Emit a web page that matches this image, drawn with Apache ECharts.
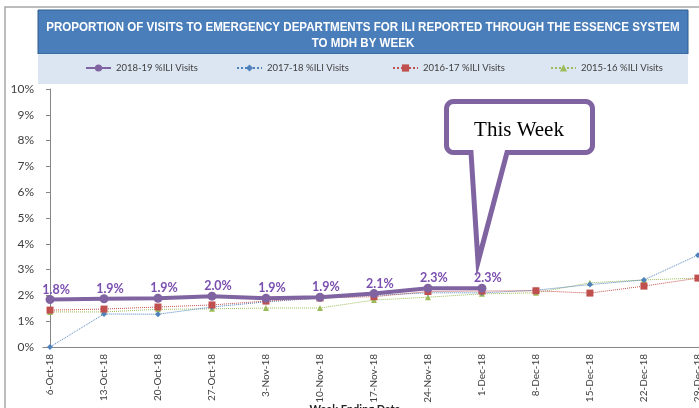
<!DOCTYPE html>
<html>
<head>
<meta charset="utf-8">
<script src="https://cdn.jsdelivr.net/npm/echarts@6/dist/echarts.min.js"></script>
<style>
  html, body { margin: 0; padding: 0; background: #fff; }
  #chart { width: 699px; height: 408px; }
</style>
</head>
<body>
<div id="chart"></div>
<script>
// week ending dates
const weeks = ['6-Oct-18', '13-Oct-18', '20-Oct-18', '27-Oct-18', '3-Nov-18', '10-Nov-18', '17-Nov-18',
  '24-Nov-18', '1-Dec-18', '8-Dec-18', '15-Dec-18', '22-Dec-18', '29-Dec-18']

// % ILI visits per season
const season1819 = [1.84, 1.87, 1.89, 1.97, 1.89, 1.93, 2.07, 2.28, 2.28]
const season1718 = [0.0, 1.28, 1.27, 1.55, 1.75, 1.9, 2.0, 2.1, 2.1, 2.2, 2.42, 2.6, 3.56]
const season1617 = [1.43, 1.47, 1.55, 1.63, 1.78, 1.9, 1.95, 2.15, 2.17, 2.18, 2.09, 2.36, 2.67]
const season1516 = [1.36, 1.36, 1.46, 1.48, 1.51, 1.51, 1.82, 1.93, 2.06, 2.1, 2.49, 2.6, 2.67]

const seasonNames = ['2018-19 %ILI Visits', '2017-18 %ILI Visits', '2016-17 %ILI Visits', '2015-16 %ILI Visits']

const toPairs = arr => arr.map((v, i) => [i, v])

// outline of the "This Week" speech bubble: rounded box with a tail
const bubblePoints = () => {
  const x0 = 446.5, x1 = 592.5, y0 = 101.5, y1 = 152.5, r = 7
  const pts = []
  const arc = (cx, cy, a0, a1) => {
    for (let k = 0; k <= 6; k++) {
      const a = a0 + (a1 - a0) * k / 6
      pts.push([cx + r * Math.cos(a), cy + r * Math.sin(a)])
    }
  }
  arc(x0 + r, y0 + r, Math.PI, Math.PI * 1.5)
  arc(x1 - r, y0 + r, Math.PI * 1.5, Math.PI * 2)
  arc(x1 - r, y1 - r, 0, Math.PI * 0.5)
  pts.push([507, y1], [478, 262], [471, y1])
  arc(x0 + r, y1 - r, Math.PI * 0.5, Math.PI)
  return pts
}

const chart = echarts.init(document.getElementById('chart'))

const labelFont = 'Lato, "Open Sans", sans-serif'

// one legend per item so each sits where the original puts it
const legendLeft = [85, 236, 392, 550]
const legends = seasonNames.map((name, i) => ({
  top: 63,
  left: legendLeft[i],
  padding: 0,
  itemWidth: 25,
  itemHeight: 9,
  itemGap: 2,
  textStyle: { fontFamily: labelFont, fontSize: 9.5, color: '#404040' },
  data: [name]
}))

const option = {
  animation: false,
  grid: { left: 43, right: 0, top: 89, bottom: 61, outerBoundsMode: 'none', containLabel: false },
  legend: legends,
  xAxis: {
    type: 'value',
    min: -0.13,
    max: 12.02,
    splitLine: { show: false },
    axisTick: { show: false },
    axisLine: { lineStyle: { color: '#868686', width: 1 } },
    axisLabel: {
      customValues: weeks.map((w, i) => i),
      formatter: v => weeks[Math.round(v)] || '',
      rotate: 90,
      fontFamily: labelFont,
      fontSize: 10,
      color: '#404040',
      margin: 7
    },
    name: 'Week Ending Date',
    nameLocation: 'middle',
    nameGap: 57,
    nameMoveOverlap: false,
    nameTextStyle: { fontFamily: labelFont, fontSize: 11, fontWeight: 'bold', color: '#222', padding: [0, 32, 0, 0] }
  },
  yAxis: {
    type: 'value',
    min: 0,
    max: 10,
    interval: 1,
    splitLine: { show: false },
    axisLine: { show: true, lineStyle: { color: '#868686' } },
    axisTick: { show: true, length: 4, lineStyle: { color: '#868686' } },
    axisLabel: {
      formatter: '{value}%',
      fontFamily: labelFont,
      fontSize: 12,
      color: '#404040',
      margin: 9
    }
  },
  series: [
    {
      name: seasonNames[3],
      type: 'line',
      data: toPairs(season1516),
      symbol: 'triangle',
      symbolSize: 6,
      lineStyle: { color: '#9BBB59', width: 1, type: 'dotted' },
      itemStyle: { color: '#9BBB59' },
      z: 2
    },
    {
      name: seasonNames[1],
      type: 'line',
      data: toPairs(season1718),
      symbol: 'diamond',
      symbolSize: 6,
      lineStyle: { color: '#4F81BD', width: 1, type: 'dotted' },
      itemStyle: { color: '#4F81BD' },
      z: 3
    },
    {
      name: seasonNames[2],
      type: 'line',
      data: toPairs(season1617),
      symbol: 'rect',
      symbolSize: 7,
      lineStyle: { color: '#C0504D', width: 1, type: 'dotted' },
      itemStyle: { color: '#C0504D' },
      z: 4
    },
    {
      name: seasonNames[0],
      type: 'line',
      data: toPairs(season1819),
      symbol: 'circle',
      symbolSize: 9,
      lineStyle: { color: '#8064A2', width: 4 },
      itemStyle: { color: '#8064A2' },
      label: {
        show: true,
        position: 'top',
        distance: -1,
        offset: [6, 0],
        formatter: p => p.value[1].toFixed(1) + '%',
        fontFamily: labelFont,
        fontSize: 12.5,
        fontWeight: 'bold',
        color: '#7B4FAF'
      },
      z: 5
    }
  ],
  graphic: [
    // outer frame
    { type: 'rect', shape: { x: 5, y: 7, width: 720, height: 420 }, style: { fill: 'none', stroke: '#a6a6a6', lineWidth: 1.5 }, z: -10 },
    // title box and legend band
    { type: 'rect', shape: { x: 38, y: 10, width: 650, height: 44 }, style: { fill: '#4A7EBB', stroke: '#2F5B8E', lineWidth: 1 }, z: -5 },
    { type: 'rect', shape: { x: 38, y: 54, width: 650, height: 30 }, style: { fill: '#DCE6F2' }, z: -5 },
    {
      type: 'text', x: 363, y: 19, scaleX: 0.89,
      style: {
        text: 'PROPORTION OF VISITS TO EMERGENCY DEPARTMENTS FOR ILI REPORTED THROUGH THE ESSENCE SYSTEM\nTO MDH BY WEEK',
        align: 'center', verticalAlign: 'top',
        fill: '#fff', fontFamily: '"Liberation Sans", Arial, sans-serif',
        fontSize: 13, fontWeight: 'bold', lineHeight: 16
      }
    },
    // "This Week" callout
    {
      type: 'polygon',
      shape: { points: bubblePoints() },
      style: { fill: '#fff', stroke: '#8064A2', lineWidth: 5, lineJoin: 'miter' },
      z: 20
    },
    {
      type: 'text', x: 519, y: 130,
      style: {
        text: 'This Week', align: 'center', verticalAlign: 'middle',
        fill: '#000', fontFamily: '"Liberation Serif", "DejaVu Serif", serif', fontSize: 21
      },
      z: 21
    }
  ]
}

chart.setOption(option)
</script>
</body>
</html>
